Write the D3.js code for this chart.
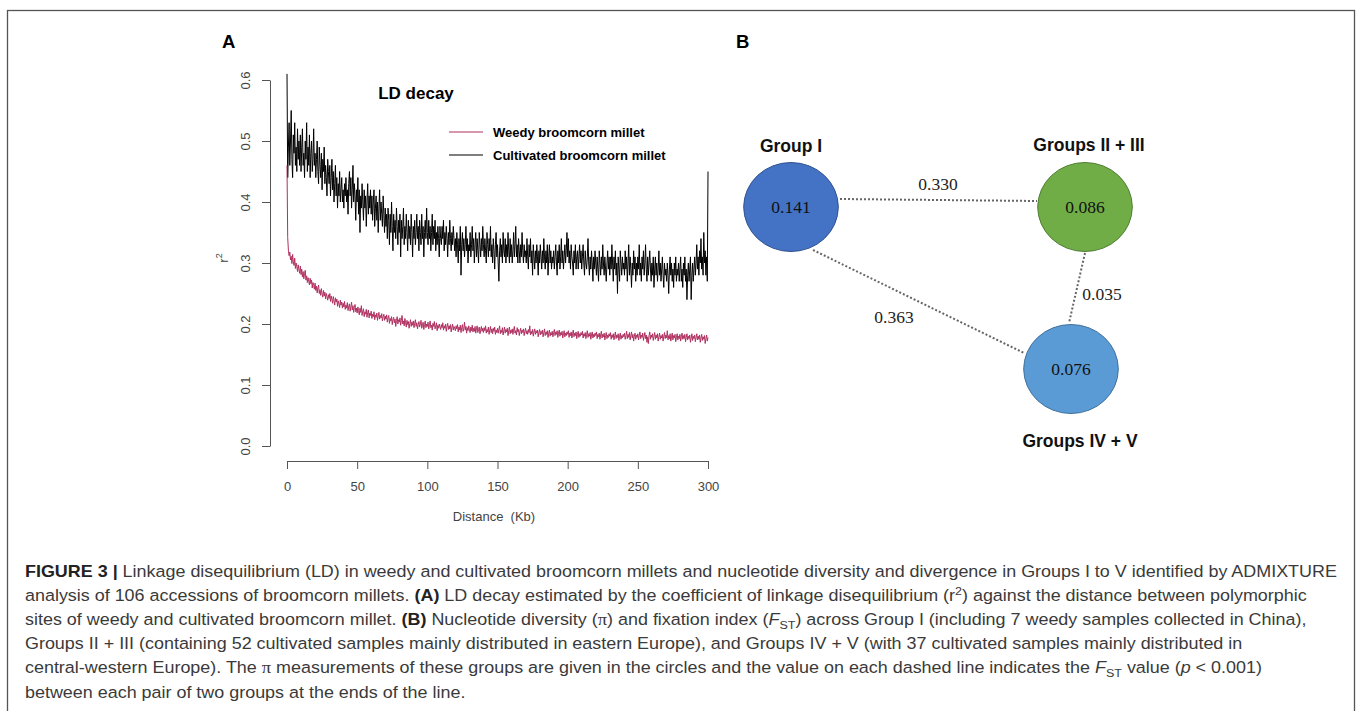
<!DOCTYPE html>
<html>
<head>
<meta charset="utf-8">
<title>LD decay and nucleotide diversity in broomcorn millet</title>
<script src="https://d3js.org/d3.v7.min.js"></script>
<style>
  body { margin: 0; background: #fff; }
  svg { display: block; font-family: "Liberation Sans", Arial, sans-serif; }
</style>
</head>
<body>
<script>
// ---------- panel A: LD decay (mean r2 per 0.5 kb bin) ----------
var distanceKb = d3.range(0, 300.5, 0.5);

var cultivatedR2 = [
  0.61, 0.44, 0.49, 0.53, 0.46, 0.50, 0.55, 0.47, 0.44, 0.51, 0.48, 0.53, 0.46, 0.49, 0.45, 0.52, 0.47, 0.50, 0.46, 0.51,
  0.45, 0.49, 0.52, 0.46, 0.48, 0.44, 0.50, 0.47, 0.53, 0.45, 0.49, 0.46, 0.51, 0.44, 0.48, 0.50, 0.45, 0.47, 0.52, 0.46,
  0.48, 0.44, 0.47, 0.50, 0.45, 0.43, 0.49, 0.46, 0.44, 0.48, 0.42, 0.47, 0.45, 0.49, 0.43, 0.46, 0.44, 0.41, 0.47, 0.45,
  0.43, 0.46, 0.41, 0.44, 0.47, 0.42, 0.45, 0.40, 0.43, 0.46, 0.41, 0.44, 0.39, 0.43, 0.41, 0.45, 0.40, 0.42, 0.44, 0.40,
  0.42, 0.39, 0.43, 0.41, 0.44, 0.40, 0.42, 0.38, 0.43, 0.45, 0.41, 0.44, 0.39, 0.42, 0.46, 0.40, 0.43, 0.41, 0.37, 0.42,
  0.40, 0.44, 0.38, 0.42, 0.35, 0.41, 0.39, 0.43, 0.40, 0.37, 0.42, 0.39, 0.41, 0.36, 0.40, 0.43, 0.38, 0.41, 0.39, 0.42,
  0.38, 0.41, 0.37, 0.40, 0.42, 0.36, 0.39, 0.41, 0.37, 0.40, 0.35, 0.39, 0.42, 0.37, 0.40, 0.38, 0.36, 0.41, 0.38, 0.35,
  0.39, 0.36, 0.38, 0.34, 0.39, 0.37, 0.33, 0.38, 0.35, 0.40, 0.36, 0.32, 0.38, 0.35, 0.37, 0.34, 0.39, 0.36, 0.33, 0.37,
  0.35, 0.38, 0.31, 0.37, 0.34, 0.36, 0.39, 0.33, 0.36, 0.34, 0.38, 0.35, 0.32, 0.37, 0.34, 0.36, 0.33, 0.38, 0.35, 0.31,
  0.36, 0.34, 0.37, 0.33, 0.35, 0.38, 0.34, 0.36, 0.32, 0.37, 0.35, 0.33, 0.38, 0.34, 0.36, 0.31, 0.35, 0.37, 0.34, 0.39,
  0.35, 0.33, 0.37, 0.34, 0.36, 0.32, 0.35, 0.38, 0.33, 0.36, 0.34, 0.37, 0.32, 0.35, 0.33, 0.36, 0.34, 0.31, 0.36, 0.34,
  0.33, 0.36, 0.34, 0.37, 0.32, 0.35, 0.33, 0.36, 0.34, 0.31, 0.35, 0.33, 0.37, 0.34, 0.32, 0.35, 0.33, 0.36, 0.34, 0.32,
  0.34, 0.31, 0.35, 0.33, 0.30, 0.34, 0.32, 0.36, 0.28, 0.33, 0.35, 0.32, 0.34, 0.31, 0.33, 0.36, 0.32, 0.34, 0.30, 0.33,
  0.32, 0.35, 0.31, 0.33, 0.36, 0.32, 0.34, 0.30, 0.33, 0.35, 0.31, 0.34, 0.32, 0.30, 0.35, 0.33, 0.31, 0.34, 0.32, 0.36,
  0.33, 0.31, 0.34, 0.32, 0.30, 0.35, 0.33, 0.31, 0.34, 0.32, 0.36, 0.31, 0.33, 0.30, 0.34, 0.32, 0.29, 0.33, 0.35, 0.31,
  0.33, 0.30, 0.27, 0.32, 0.34, 0.31, 0.33, 0.30, 0.35, 0.32, 0.31, 0.34, 0.30, 0.33, 0.31, 0.35, 0.32, 0.30, 0.34, 0.31,
  0.33, 0.30, 0.32, 0.35, 0.31, 0.33, 0.36, 0.31, 0.33, 0.30, 0.34, 0.32, 0.30, 0.33, 0.31, 0.35, 0.32, 0.30, 0.33, 0.31,
  0.32, 0.30, 0.34, 0.31, 0.29, 0.33, 0.31, 0.34, 0.30, 0.32, 0.28, 0.33, 0.31, 0.29, 0.32, 0.30, 0.33, 0.31, 0.28, 0.32,
  0.30, 0.33, 0.31, 0.29, 0.32, 0.30, 0.34, 0.31, 0.29, 0.32, 0.30, 0.33, 0.28, 0.31, 0.33, 0.30, 0.32, 0.29, 0.31, 0.30,
  0.32, 0.29, 0.31, 0.33, 0.30, 0.28, 0.32, 0.30, 0.33, 0.29, 0.31, 0.34, 0.30, 0.32, 0.29, 0.31, 0.33, 0.30, 0.32, 0.35,
  0.31, 0.34, 0.30, 0.32, 0.29, 0.33, 0.31, 0.30, 0.28, 0.32, 0.30, 0.33, 0.29, 0.31, 0.32, 0.29, 0.31, 0.33, 0.30, 0.32,
  0.29, 0.31, 0.33, 0.30, 0.28, 0.32, 0.30, 0.29, 0.31, 0.34, 0.30, 0.28, 0.31, 0.29, 0.32, 0.30, 0.27, 0.31, 0.29, 0.32,
  0.30, 0.28, 0.31, 0.29, 0.27, 0.32, 0.30, 0.28, 0.31, 0.29, 0.33, 0.30, 0.28, 0.31, 0.29, 0.27, 0.30, 0.32, 0.29, 0.31,
  0.28, 0.31, 0.29, 0.33, 0.30, 0.27, 0.31, 0.29, 0.32, 0.28, 0.30, 0.25, 0.31, 0.29, 0.27, 0.32, 0.30, 0.28, 0.31, 0.29,
  0.30, 0.28, 0.32, 0.29, 0.31, 0.27, 0.30, 0.33, 0.28, 0.31, 0.29, 0.26, 0.30, 0.28, 0.32, 0.29, 0.31, 0.27, 0.30, 0.28,
  0.31, 0.29, 0.33, 0.28, 0.30, 0.27, 0.31, 0.29, 0.32, 0.28, 0.30, 0.33, 0.29, 0.27, 0.31, 0.28, 0.30, 0.32, 0.29, 0.27,
  0.30, 0.28, 0.31, 0.26, 0.29, 0.31, 0.28, 0.30, 0.27, 0.29, 0.32, 0.28, 0.30, 0.27, 0.29, 0.31, 0.28, 0.26, 0.30, 0.28,
  0.29, 0.27, 0.30, 0.28, 0.25, 0.29, 0.31, 0.28, 0.30, 0.27, 0.29, 0.26, 0.30, 0.28, 0.31, 0.27, 0.29, 0.28, 0.30, 0.27,
  0.29, 0.31, 0.27, 0.29, 0.26, 0.30, 0.28, 0.31, 0.27, 0.29, 0.24, 0.28, 0.30, 0.27, 0.29, 0.31, 0.24, 0.28, 0.30, 0.27,
  0.29, 0.31, 0.28, 0.30, 0.33, 0.29, 0.31, 0.28, 0.32, 0.30, 0.34, 0.29, 0.31, 0.28, 0.35, 0.30, 0.32, 0.28, 0.31, 0.27,
  0.45
];

var weedyR2 = [
  0.460, 0.342, 0.321, 0.312, 0.318, 0.305, 0.311, 0.299, 0.314, 0.302, 0.296, 0.308, 0.291, 0.300, 0.294, 0.286, 0.297, 0.289, 0.283, 0.295,
  0.281, 0.290, 0.277, 0.286, 0.274, 0.283, 0.288, 0.272, 0.279, 0.268, 0.276, 0.270, 0.264, 0.275, 0.266, 0.272, 0.259, 0.268, 0.263, 0.257,
  0.267, 0.255, 0.262, 0.251, 0.259, 0.264, 0.250, 0.256, 0.247, 0.258, 0.249, 0.244, 0.255, 0.246, 0.252, 0.241, 0.250, 0.245, 0.239, 0.248,
  0.242, 0.250, 0.237, 0.246, 0.240, 0.234, 0.245, 0.238, 0.231, 0.243, 0.236, 0.241, 0.229, 0.238, 0.233, 0.227, 0.239, 0.231, 0.236, 0.226,
  0.234, 0.228, 0.237, 0.224, 0.231, 0.226, 0.235, 0.222, 0.229, 0.233, 0.221, 0.228, 0.236, 0.223, 0.230, 0.219, 0.227, 0.232, 0.220, 0.226,
  0.218, 0.228, 0.222, 0.215, 0.226, 0.219, 0.230, 0.214, 0.221, 0.225, 0.212, 0.220, 0.216, 0.224, 0.211, 0.219, 0.223, 0.210, 0.218, 0.214,
  0.221, 0.209, 0.216, 0.212, 0.220, 0.207, 0.215, 0.211, 0.218, 0.206, 0.213, 0.219, 0.208, 0.214, 0.210, 0.217, 0.205, 0.212, 0.216, 0.206,
  0.213, 0.208, 0.215, 0.203, 0.210, 0.214, 0.201, 0.209, 0.205, 0.212, 0.199, 0.207, 0.211, 0.202, 0.208, 0.196, 0.206, 0.212, 0.200, 0.207,
  0.203, 0.210, 0.198, 0.206, 0.214, 0.200, 0.205, 0.197, 0.209, 0.202, 0.195, 0.206, 0.199, 0.204, 0.193, 0.201, 0.207, 0.196, 0.203, 0.198,
  0.205, 0.194, 0.201, 0.207, 0.196, 0.202, 0.192, 0.199, 0.204, 0.195, 0.200, 0.206, 0.193, 0.198, 0.203, 0.191, 0.199, 0.205, 0.194, 0.200,
  0.196, 0.203, 0.192, 0.199, 0.205, 0.194, 0.198, 0.190, 0.201, 0.196, 0.204, 0.192, 0.197, 0.202, 0.189, 0.198, 0.193, 0.200, 0.195, 0.191,
  0.199, 0.194, 0.202, 0.190, 0.197, 0.193, 0.200, 0.188, 0.196, 0.201, 0.191, 0.197, 0.192, 0.199, 0.187, 0.195, 0.200, 0.190, 0.196, 0.193,
  0.189, 0.197, 0.192, 0.199, 0.187, 0.195, 0.190, 0.198, 0.186, 0.194, 0.199, 0.188, 0.193, 0.203, 0.190, 0.196, 0.185, 0.194, 0.189, 0.197,
  0.191, 0.186, 0.195, 0.189, 0.198, 0.187, 0.193, 0.188, 0.196, 0.185, 0.192, 0.197, 0.186, 0.191, 0.195, 0.184, 0.190, 0.196, 0.188, 0.193,
  0.186, 0.194, 0.189, 0.197, 0.185, 0.191, 0.187, 0.195, 0.183, 0.190, 0.196, 0.186, 0.192, 0.184, 0.193, 0.188, 0.195, 0.183, 0.190, 0.186,
  0.193, 0.185, 0.191, 0.197, 0.184, 0.190, 0.186, 0.194, 0.182, 0.189, 0.195, 0.185, 0.191, 0.187, 0.193, 0.181, 0.189, 0.195, 0.184, 0.190,
  0.186, 0.192, 0.183, 0.190, 0.196, 0.185, 0.189, 0.182, 0.194, 0.187, 0.191, 0.181, 0.188, 0.193, 0.184, 0.190, 0.186, 0.192, 0.181, 0.188,
  0.193, 0.184, 0.189, 0.183, 0.191, 0.186, 0.197, 0.182, 0.188, 0.184, 0.191, 0.180, 0.187, 0.192, 0.183, 0.189, 0.185, 0.190, 0.179, 0.186,
  0.191, 0.182, 0.188, 0.184, 0.190, 0.179, 0.186, 0.192, 0.181, 0.187, 0.183, 0.189, 0.178, 0.185, 0.190, 0.180, 0.186, 0.182, 0.188, 0.179,
  0.186, 0.191, 0.181, 0.187, 0.183, 0.189, 0.178, 0.185, 0.190, 0.180, 0.186, 0.182, 0.188, 0.177, 0.184, 0.189, 0.179, 0.185, 0.181, 0.187,
  0.183, 0.189, 0.178, 0.185, 0.181, 0.187, 0.177, 0.184, 0.190, 0.179, 0.185, 0.181, 0.187, 0.176, 0.183, 0.188, 0.178, 0.184, 0.180, 0.186,
  0.182, 0.188, 0.177, 0.184, 0.180, 0.186, 0.176, 0.183, 0.189, 0.178, 0.184, 0.180, 0.186, 0.175, 0.182, 0.187, 0.177, 0.183, 0.179, 0.185,
  0.181, 0.187, 0.176, 0.183, 0.179, 0.185, 0.175, 0.182, 0.188, 0.177, 0.183, 0.179, 0.185, 0.174, 0.181, 0.186, 0.176, 0.182, 0.178, 0.184,
  0.180, 0.186, 0.175, 0.182, 0.178, 0.184, 0.174, 0.181, 0.187, 0.176, 0.182, 0.178, 0.184, 0.173, 0.180, 0.185, 0.175, 0.181, 0.177, 0.183,
  0.179, 0.185, 0.175, 0.181, 0.188, 0.176, 0.183, 0.178, 0.186, 0.174, 0.181, 0.187, 0.177, 0.183, 0.172, 0.180, 0.185, 0.175, 0.182, 0.178,
  0.184, 0.174, 0.181, 0.187, 0.176, 0.182, 0.178, 0.185, 0.173, 0.180, 0.186, 0.176, 0.182, 0.170, 0.179, 0.168, 0.181, 0.187, 0.175, 0.182,
  0.178, 0.184, 0.173, 0.180, 0.186, 0.175, 0.182, 0.177, 0.184, 0.172, 0.179, 0.185, 0.175, 0.181, 0.177, 0.183, 0.172, 0.180, 0.186, 0.176,
  0.182, 0.177, 0.189, 0.174, 0.181, 0.176, 0.184, 0.172, 0.179, 0.185, 0.174, 0.181, 0.177, 0.183, 0.171, 0.178, 0.184, 0.174, 0.180, 0.176,
  0.183, 0.172, 0.179, 0.185, 0.175, 0.181, 0.176, 0.183, 0.171, 0.178, 0.184, 0.174, 0.180, 0.176, 0.182, 0.170, 0.177, 0.184, 0.173, 0.180,
  0.176, 0.182, 0.171, 0.178, 0.184, 0.174, 0.180, 0.175, 0.182, 0.170, 0.177, 0.183, 0.173, 0.179, 0.175, 0.181, 0.168, 0.176, 0.182, 0.172,
  0.178
];

var yTicks = [0, 0.1, 0.2, 0.3, 0.4, 0.5, 0.6];
var xTicks = [0, 50, 100, 150, 200, 250, 300];
var seriesNames = ["Weedy broomcorn millet", "Cultivated broomcorn millet"];
var seriesColors = ["#b03060", "#000000"];

// ---------- panel B: nucleotide diversity (pi) and pairwise Fst ----------
var groupNames = ["Group I", "Groups II + III", "Groups IV + V"];
var piValues = [0.141, 0.086, 0.076];
var fstPairs = [[0, 1], [0, 2], [1, 2]];
var fstValues = [0.330, 0.363, 0.035];

var groupFill = ["#4472c4", "#70ad47", "#5b9bd5"];
var groupStroke = ["#2f528f", "#507e32", "#41719c"];

// node and edge placement (layout only)
var nodeLayout = [
  { cx: 791, cy: 207, labelY: 152 },
  { cx: 1085, cy: 207, labelX: 1089, labelY: 151 },
  { cx: 1071, cy: 369, labelX: 1080, labelY: 447 }
];
var edgeLayout = [
  { x1: 840, y1: 199, x2: 1037, y2: 201, lx: 938, ly: 190 },
  { x1: 813, y1: 250, x2: 1024, y2: 353, lx: 894, ly: 323 },
  { x1: 1085, y1: 253, x2: 1069, y2: 323, lx: 1102, ly: 300 }
];

var width = 1360, height = 711;

var svg = d3.select("body").append("svg")
    .attr("width", width)
    .attr("height", height);

svg.append("rect").attr("width", width).attr("height", height).attr("fill", "#fff");

// figure frame (open at the bottom, runs off the page)
svg.append("rect")
    .attr("x", 7.5).attr("y", 10.5)
    .attr("width", 1347).attr("height", 740)
    .attr("fill", "none")
    .attr("stroke", "#555")
    .attr("stroke-width", 1.3);

// panel letters
svg.append("text").attr("x", 222).attr("y", 48)
    .attr("font-size", 18.5).attr("font-weight", "bold").text("A");
svg.append("text").attr("x", 736).attr("y", 48)
    .attr("font-size", 18.5).attr("font-weight", "bold").text("B");

// ================= panel A =================
var x = d3.scaleLinear().domain([0, 300]).range([287, 708]);
var y = d3.scaleLinear().domain([0, 0.6]).range([446, 80]);

var axisColor = "#555", labelColor = "#444";

var yAxis = svg.append("g")
    .attr("transform", "translate(270,0)")
    .call(d3.axisLeft(y).tickValues(yTicks).tickSize(8).tickSizeOuter(0)
        .tickFormat(d3.format(".1f")));
yAxis.selectAll("text")
    .attr("x", 0).attr("y", -20).attr("dy", 0)
    .attr("text-anchor", "middle")
    .attr("transform", "rotate(-90)");

var xAxis = svg.append("g")
    .attr("transform", "translate(0,461)")
    .call(d3.axisBottom(x).tickValues(xTicks).tickSize(8).tickSizeOuter(0)
        .tickFormat(d3.format("d")));
xAxis.selectAll("text").attr("y", 30).attr("dy", 0);

[yAxis, xAxis].forEach(function(g) {
  g.selectAll("path, line").attr("stroke", axisColor).attr("stroke-width", 1);
  g.selectAll("text").attr("fill", labelColor)
      .attr("font-size", 13).attr("font-family", "Liberation Sans, Arial, sans-serif");
});

svg.append("text")
    .attr("x", 494).attr("y", 521)
    .attr("text-anchor", "middle")
    .attr("font-size", 13).attr("fill", labelColor)
    .attr("xml:space", "preserve")
    .text("Distance  (Kb)");

var r2Label = svg.append("text")
    .attr("transform", "translate(228,258) rotate(-90)")
    .attr("text-anchor", "middle")
    .attr("font-size", 13).attr("fill", labelColor);
r2Label.append("tspan").text("r");
r2Label.append("tspan").attr("dy", -6).attr("font-size", 9).text("2");

svg.append("text")
    .attr("x", 416).attr("y", 99)
    .attr("text-anchor", "middle")
    .attr("font-size", 17).attr("font-weight", "bold")
    .text("LD decay");

var line = d3.line()
    .x(function(d, i) { return x(distanceKb[i]); })
    .y(function(d) { return y(d); });

svg.append("path")
    .datum(cultivatedR2)
    .attr("d", line)
    .attr("fill", "none")
    .attr("stroke", seriesColors[1])
    .attr("stroke-width", 1);

svg.append("path")
    .datum(weedyR2)
    .attr("d", line)
    .attr("fill", "none")
    .attr("stroke", seriesColors[0])
    .attr("stroke-width", 1);

// legend
var legend = svg.append("g").attr("transform", "translate(449,132)");
seriesNames.forEach(function(name, i) {
  var row = legend.append("g").attr("transform", "translate(0," + (i * 23) + ")");
  row.append("line").attr("x1", 0).attr("x2", 34).attr("y1", 0).attr("y2", 0)
      .attr("stroke", seriesColors[i]).attr("stroke-width", 1.2);
  row.append("text").attr("x", 44).attr("y", 5)
      .attr("font-size", 13).attr("font-weight", "bold")
      .text(name);
});

// ================= panel B =================
var fmt = d3.format(".3f");
var serif = "Liberation Serif, Times New Roman, serif";

svg.append("g").selectAll("line")
    .data(fstPairs)
    .enter().append("line")
    .attr("x1", function(d, i) { return edgeLayout[i].x1; })
    .attr("y1", function(d, i) { return edgeLayout[i].y1; })
    .attr("x2", function(d, i) { return edgeLayout[i].x2; })
    .attr("y2", function(d, i) { return edgeLayout[i].y2; })
    .attr("stroke", "#666")
    .attr("stroke-width", 2)
    .attr("stroke-dasharray", "2,2");

svg.append("g").selectAll("text")
    .data(fstValues)
    .enter().append("text")
    .attr("x", function(d, i) { return edgeLayout[i].lx; })
    .attr("y", function(d, i) { return edgeLayout[i].ly; })
    .attr("text-anchor", "middle")
    .attr("font-family", serif)
    .attr("font-size", 17.5)
    .attr("fill", "#222")
    .text(function(d) { return fmt(d); });

var nodes = svg.append("g").selectAll("g")
    .data(groupNames)
    .enter().append("g");

nodes.append("ellipse")
    .attr("cx", function(d, i) { return nodeLayout[i].cx; })
    .attr("cy", function(d, i) { return nodeLayout[i].cy; })
    .attr("rx", 47.3)
    .attr("ry", 44.5)
    .attr("fill", function(d, i) { return groupFill[i]; })
    .attr("stroke", function(d, i) { return groupStroke[i]; })
    .attr("stroke-width", 1);

nodes.append("text")
    .attr("x", function(d, i) { return nodeLayout[i].cx; })
    .attr("y", function(d, i) { return nodeLayout[i].cy + 6; })
    .attr("text-anchor", "middle")
    .attr("font-family", serif)
    .attr("font-size", 17.5)
    .attr("fill", "#111")
    .text(function(d, i) { return fmt(piValues[i]); });

nodes.append("text")
    .attr("x", function(d, i) { return nodeLayout[i].labelX || nodeLayout[i].cx; })
    .attr("y", function(d, i) { return nodeLayout[i].labelY; })
    .attr("text-anchor", "middle")
    .attr("font-size", 17.5)
    .attr("font-weight", "bold")
    .attr("fill", "#111")
    .text(function(d) { return d; });

// ================= caption =================
var captionColor = "#3a3a3a";
var captionLines = [
  [{ t: "FIGURE 3 | ", b: 1, c: "#222" }, { t: "Linkage disequilibrium (LD) in weedy and cultivated broomcorn millets and nucleotide diversity and divergence in Groups I to V identified by ADMIXTURE" }],
  [{ t: "analysis of 106 accessions of broomcorn millets. " }, { t: "(A)", b: 1, c: "#222" }, { t: " LD decay estimated by the coefficient of linkage disequilibrium (r" }, { t: "2", sup: 1 }, { t: ") against the distance between polymorphic" }],
  [{ t: "sites of weedy and cultivated broomcorn millet. " }, { t: "(B)", b: 1, c: "#222" }, { t: " Nucleotide diversity (" }, { t: "\u03c0", serif: 1 }, { t: ") and fixation index (" }, { t: "F", i: 1 }, { t: "ST", sub: 1 }, { t: ") across Group I (including 7 weedy samples collected in China)," }],
  [{ t: "Groups II + III (containing 52 cultivated samples mainly distributed in eastern Europe), and Groups IV + V (with 37 cultivated samples mainly distributed in" }],
  [{ t: "central-western Europe). The " }, { t: "\u03c0", serif: 1 }, { t: " measurements of these groups are given in the circles and the value on each dashed line indicates the " }, { t: "F", i: 1 }, { t: "ST", sub: 1 }, { t: " value (" }, { t: "p", i: 1 }, { t: " < 0.001)" }],
  [{ t: "between each pair of two groups at the ends of the line." }]
];
var captionBaselines = [577, 601, 625, 649, 673, 698];

var captionTexts = captionLines.map(function(parts) {
  var txt = svg.append("text")
      .attr("font-size", 16.5)
      .attr("fill", captionColor)
      .attr("xml:space", "preserve");
  var shift = 0;
  parts.forEach(function(p) {
    var ts = txt.append("tspan").text(p.t);
    if (p.b) ts.attr("font-weight", "bold");
    if (p.c) ts.attr("fill", p.c);
    if (p.i) ts.attr("font-style", "italic");
    if (p.serif) ts.attr("font-family", serif).attr("font-size", 17);
    var target = p.sup ? -6 : (p.sub ? 4 : 0);
    if (target !== shift) { ts.attr("dy", target - shift); shift = target; }
    if (p.sup || p.sub) ts.attr("font-size", 11.5);
  });
  return txt;
});

// squeeze the caption horizontally so the first line spans the frame like the original face
var natural = captionTexts[0].node().getComputedTextLength();
var k = (1338 - 25) / natural;
captionTexts.forEach(function(txt, li) {
  txt.attr("transform", "translate(25," + captionBaselines[li] + ") scale(" + k + ",1)");
});
</script>
</body>
</html>
